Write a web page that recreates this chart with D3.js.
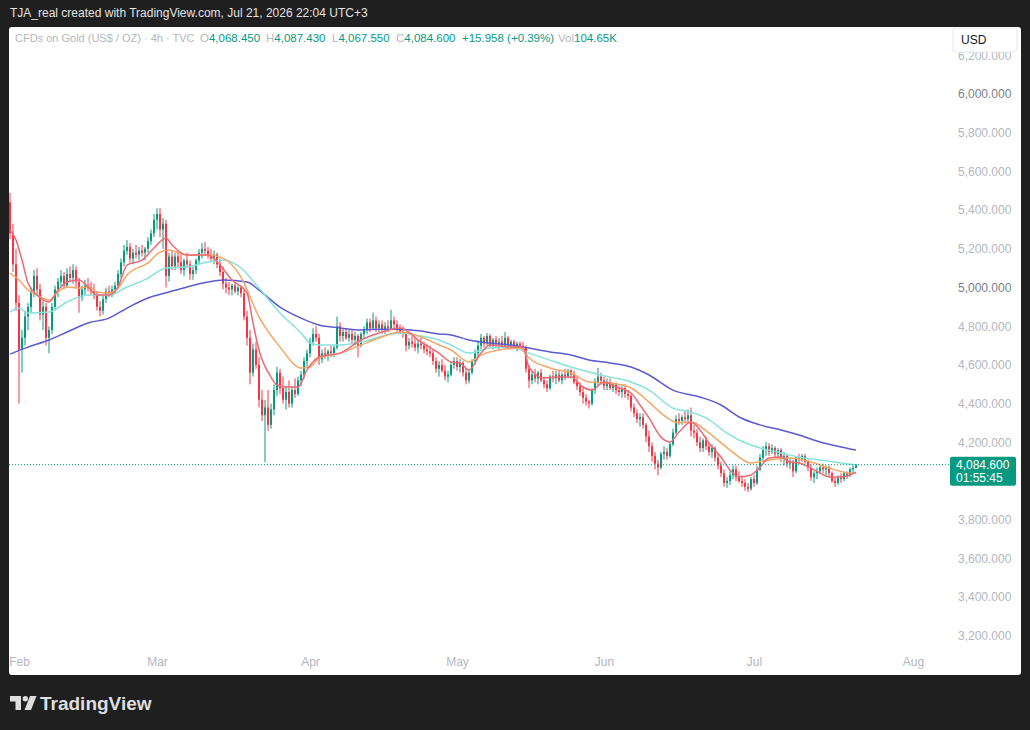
<!DOCTYPE html>
<html>
<head>
<meta charset="utf-8">
<script src="https://cdn.jsdelivr.net/npm/d3@7"></script>
<style>
  html, body { margin: 0; padding: 0; background: #1f1f1f; }
  svg { display: block; font-family: "Liberation Sans", Arial, sans-serif; }
</style>
</head>
<body>
<svg id="chart" width="1030" height="730"></svg>
<script>
// 4h-ish candles, [open, high, low, close], grouped per month
var barsFeb = [
  [5440,5490,5250,5280],[5280,5330,5080,5120],[5120,5200,4880,4920],[4920,4960,4400,4680],
  [4680,4780,4560,4740],[4740,4880,4700,4850],[4850,4920,4780,4900],[4900,5000,4870,4980],
  [4980,5090,4950,5060],[5060,5100,4960,4990],[4990,5020,4830,4860],[4860,4930,4780,4900],
  [4900,4920,4700,4740],[4740,4800,4660,4780],[4780,4920,4760,4900],[4900,5010,4880,4990],
  [4990,5050,4950,5030],[5030,5090,5000,5060],[5060,5080,4990,5010],[5010,5100,5000,5070],
  [5070,5110,5030,5050],[5050,5120,5020,5090],[5090,5110,5000,5030],[5030,5050,4870,4950],
  [4950,5010,4930,4990],[4990,5040,4960,5010],[5010,5050,4980,5000],[5000,5030,4960,4980],
  [4980,5020,4940,4960],[4960,4980,4880,4900],[4900,4930,4850,4880],[4880,4960,4860,4940],
  [4940,5000,4920,4980],[4980,5010,4950,4970],[4970,5010,4950,4990],[4990,5030,4970,5010],
  [5010,5090,5000,5070],[5070,5150,5050,5130],[5130,5220,5110,5190],[5190,5245,5170,5210],
  [5210,5230,5130,5150],[5150,5200,5120,5180],[5180,5220,5150,5170],[5170,5210,5140,5190],
  [5190,5220,5160,5180],[5180,5210,5140,5200],[5200,5260,5180,5240],[5240,5300,5220,5280],
  [5280,5380,5260,5350]
];
var barsMar = [
  [5350,5410,5300,5380],[5380,5410,5260,5300],[5300,5360,5200,5330],[5330,5350,5000,5060],
  [5060,5180,5030,5160],[5160,5190,5090,5110],[5110,5180,5090,5160],[5160,5190,5100,5130],
  [5130,5170,5070,5090],[5090,5150,5060,5140],[5140,5180,5100,5120],[5120,5140,5040,5070],
  [5070,5110,5040,5090],[5090,5150,5070,5140],[5140,5200,5120,5180],[5180,5230,5150,5200],
  [5200,5235,5170,5190],[5190,5210,5150,5170],[5170,5200,5130,5150],[5150,5190,5120,5170],
  [5170,5180,5100,5120],[5120,5150,5060,5080],[5080,5110,4990,5020],[5020,5050,4970,5000],
  [5000,5030,4960,4990],[4990,5020,4960,5010],[5010,5030,4970,4980],[4980,5010,4960,5000],
  [5000,5010,4950,4970],[4970,4990,4830,4850],[4850,4880,4700,4740],[4740,4780,4500,4560],
  [4560,4710,4540,4680],[4680,4720,4580,4600],[4600,4640,4380,4420],[4420,4470,4310,4340],
  [4340,4420,4098,4380],[4380,4470,4260,4290],[4290,4400,4270,4370],[4370,4500,4340,4470],
  [4470,4590,4440,4560],[4560,4580,4450,4480],[4480,4540,4400,4420],[4420,4490,4370,4460],
  [4460,4520,4380,4400],[4400,4490,4380,4470],[4470,4530,4430,4450],[4450,4540,4440,4520],
  [4520,4570,4490,4550],[4550,4640,4530,4620],[4620,4680,4590,4660]
];
var barsApr = [
  [4660,4740,4640,4720],[4720,4790,4700,4760],[4760,4800,4720,4740],[4740,4760,4600,4630],
  [4630,4680,4610,4660],[4660,4690,4630,4650],[4650,4680,4620,4670],[4670,4700,4640,4660],
  [4660,4700,4640,4690],[4690,4850,4680,4800],[4800,4820,4720,4750],[4750,4790,4720,4770],
  [4770,4790,4730,4740],[4740,4780,4720,4760],[4760,4780,4710,4730],[4730,4770,4700,4750],
  [4750,4760,4640,4700],[4700,4770,4690,4760],[4760,4800,4740,4780],[4780,4840,4760,4820],
  [4820,4840,4770,4790],[4790,4870,4780,4830],[4830,4850,4770,4790],[4790,4830,4770,4810],
  [4810,4830,4760,4780],[4780,4820,4760,4800],[4800,4830,4770,4790],[4790,4885,4780,4830],
  [4830,4850,4790,4810],[4810,4830,4770,4790],[4790,4810,4760,4770],[4770,4800,4740,4760],
  [4760,4770,4670,4700],[4700,4740,4680,4720],[4720,4750,4690,4710],[4710,4740,4670,4690],
  [4690,4730,4660,4710],[4710,4740,4680,4700],[4700,4720,4660,4680],[4680,4710,4650,4670],
  [4670,4700,4640,4660],[4660,4680,4600,4620],[4620,4640,4560,4580],[4580,4620,4540,4600],
  [4600,4630,4560,4570],[4570,4600,4520,4540],[4540,4570,4510,4550],[4550,4620,4540,4600],
  [4600,4640,4580,4620]
];
var barsMay = [
  [4620,4640,4570,4590],[4590,4630,4560,4610],[4610,4620,4540,4560],[4560,4580,4500,4520],
  [4520,4570,4505,4560],[4560,4630,4550,4620],[4620,4680,4600,4660],[4660,4720,4640,4700],
  [4700,4760,4680,4740],[4740,4750,4690,4710],[4710,4765,4700,4750],[4750,4760,4690,4700],
  [4700,4740,4680,4730],[4730,4750,4690,4710],[4710,4740,4680,4720],[4720,4750,4690,4700],
  [4700,4770,4690,4740],[4740,4750,4680,4700],[4700,4730,4680,4720],[4720,4730,4680,4690],
  [4690,4720,4670,4710],[4710,4720,4680,4700],[4700,4720,4670,4690],[4690,4700,4560,4580],
  [4580,4600,4480,4520],[4520,4570,4500,4550],[4550,4580,4510,4530],[4530,4570,4500,4560],
  [4560,4580,4510,4520],[4520,4540,4480,4500],[4500,4520,4460,4480],[4480,4550,4470,4540],
  [4540,4570,4510,4530],[4530,4570,4500,4550],[4550,4570,4510,4520],[4520,4560,4500,4550],
  [4550,4580,4520,4540],[4540,4580,4530,4570],[4570,4580,4530,4550],[4550,4570,4500,4510],
  [4510,4540,4470,4490],[4490,4510,4440,4460],[4460,4490,4400,4430],[4430,4450,4390,4410],
  [4410,4420,4375,4400],[4400,4480,4390,4470],[4470,4530,4450,4510],[4510,4585,4490,4540],
  [4540,4560,4500,4520]
];
var barsJun = [
  [4520,4540,4470,4490],[4490,4530,4470,4510],[4510,4530,4470,4480],[4480,4510,4460,4500],
  [4500,4510,4450,4470],[4470,4490,4440,4460],[4460,4490,4430,4480],[4480,4500,4430,4450],
  [4450,4470,4420,4440],[4440,4450,4360,4380],[4380,4400,4330,4350],[4350,4370,4300,4320],
  [4320,4350,4280,4330],[4330,4350,4270,4290],[4290,4300,4200,4230],[4230,4260,4150,4180],
  [4180,4200,4100,4130],[4130,4150,4060,4090],[4090,4110,4030,4070],[4070,4150,4060,4140],
  [4140,4180,4110,4150],[4150,4170,4110,4130],[4130,4200,4120,4190],[4190,4270,4180,4250],
  [4250,4340,4240,4320],[4320,4350,4290,4310],[4310,4340,4290,4330],[4330,4360,4300,4320],
  [4320,4370,4300,4340],[4340,4380,4230,4260],[4260,4290,4220,4250],[4250,4270,4180,4200],
  [4200,4230,4150,4170],[4170,4220,4150,4210],[4210,4230,4160,4180],[4180,4200,4130,4150],
  [4150,4190,4120,4170],[4170,4180,4100,4120],[4120,4140,4060,4080],[4080,4100,4020,4040],
  [4040,4060,3970,3990],[3990,4020,3965,4000],[4000,4050,3980,4030],[4030,4080,4010,4060],
  [4060,4080,4000,4020],[4020,4050,3990,4000],[4000,4030,3970,3990],[3990,4010,3950,3970],
  [3970,3990,3943,3960],[3960,4020,3950,4010]
];
var barsJul = [
  [4010,4030,3970,3990],[3990,4080,3980,4060],[4060,4140,4050,4120],[4120,4180,4100,4160],
  [4160,4200,4130,4180],[4180,4195,4130,4150],[4150,4190,4140,4170],[4170,4180,4120,4140],
  [4140,4170,4120,4160],[4160,4170,4100,4120],[4120,4150,4080,4130],[4130,4140,4070,4090],
  [4090,4120,4060,4100],[4100,4110,4020,4050],[4050,4130,4040,4120],[4120,4140,4090,4110],
  [4110,4140,4100,4130],[4130,4140,4090,4100],[4100,4110,4050,4070],[4070,4090,4000,4020],
  [4020,4050,3990,4040],[4040,4070,4010,4050],[4050,4080,4040,4070],[4070,4090,4040,4060],
  [4060,4080,4030,4070],[4070,4080,4020,4040],[4040,4050,3990,4000],[4000,4020,3970,3990],
  [3990,4030,3980,4020],[4020,4040,3990,4010],[4010,4050,4000,4040],[4040,4050,4010,4030],
  [4030,4070,4020,4060],[4060,4080,4040,4068.45],[4068.45,4087.43,4067.55,4084.6]
];

// moving averages, [bar index, price]
var maFast = [[0,5297],[2,5245],[4,5142],[6,5023],[9,4961],[13,4925],[16,4987],[19,5028],[23,5039],[26,5003],[29,4961],[33,4961],[36,5003],[39,5116],[44,5142],[48,5204],[52,5256],[54,5220],[59,5168],[66,5168],[70,5116],[74,5039],[79,4972],[81,4817],[83,4677],[87,4537],[89,4496],[92,4486],[96,4486],[99,4574],[103,4641],[110,4661],[117,4729],[123,4765],[130,4791],[137,4718],[143,4661],[147,4615],[150,4610],[153,4574],[157,4661],[160,4703],[167,4692],[171,4692],[173,4589],[178,4532],[182,4537],[187,4537],[191,4486],[194,4470],[198,4512],[202,4486],[207,4455],[210,4393],[213,4326],[217,4227],[220,4202],[223,4253],[227,4305],[230,4264],[233,4196],[237,4124],[240,4057],[243,4021],[247,4031],[250,4072],[253,4119],[257,4124],[260,4098],[263,4093],[267,4067],[270,4041],[273,4021],[277,4021],[280,4031],[282,4046]];
var maMid = [[0,5075],[3,5039],[6,4987],[9,4961],[13,4935],[16,4977],[19,5003],[23,4997],[26,5003],[29,4977],[33,4972],[36,4997],[39,5065],[46,5127],[50,5183],[53,5194],[59,5168],[66,5168],[71,5152],[77,5054],[83,4848],[90,4692],[97,4584],[100,4589],[103,4636],[110,4661],[117,4703],[123,4739],[130,4770],[137,4744],[143,4703],[147,4677],[153,4615],[157,4651],[163,4677],[170,4687],[173,4636],[180,4584],[187,4558],[193,4512],[200,4506],[207,4481],[213,4408],[217,4351],[223,4300],[227,4305],[233,4248],[240,4160],[247,4093],[253,4109],[260,4119],[267,4098],[273,4067],[280,4041],[282,4041]];
var maSlow = [[0,4873],[3,4894],[6,4868],[13,4873],[19,4925],[26,4961],[33,4961],[39,5003],[46,5049],[52,5101],[59,5106],[66,5132],[71,5142],[77,5101],[83,4997],[90,4868],[97,4765],[100,4713],[103,4703],[110,4703],[117,4718],[123,4744],[130,4765],[137,4749],[143,4729],[147,4703],[153,4661],[160,4687],[167,4692],[173,4661],[180,4625],[187,4589],[193,4563],[200,4537],[207,4512],[213,4470],[221,4377],[227,4357],[232,4326],[239,4248],[243,4212],[250,4171],[257,4145],[263,4124],[270,4109],[277,4093],[282,4083]];
var maLong = [[0,4656],[6,4692],[13,4729],[19,4770],[26,4817],[33,4842],[39,4894],[46,4946],[53,4977],[59,5003],[66,5028],[71,5039],[79,5028],[83,4987],[90,4899],[97,4842],[103,4806],[110,4791],[117,4780],[123,4785],[130,4785],[137,4775],[143,4760],[147,4755],[153,4729],[160,4713],[167,4703],[173,4687],[180,4667],[187,4651],[193,4625],[200,4610],[207,4589],[213,4548],[221,4470],[230,4434],[237,4393],[243,4331],[250,4290],[257,4264],[263,4238],[270,4202],[277,4176],[282,4160]];

var monthLabels = ['Feb','Mar','Apr','May','Jun','Jul','Aug'];
var monthBarIdx = [3,49,100,149,198,248,301];
var priceTicks = [3200,3400,3600,3800,4000,4200,4400,4600,4800,5000,5200,5400,5600,5800,6000,6200];
var lastPrice = 4084.6;
var countdown = '01:55:45';
var legendKeys = ['O','H','L','C'];
var legendNums = ['4,068.450','4,087.430','4,067.550','4,084.600'];
var legendChange = '+15.958 (+0.39%)';
var legendVol = '104.65K';

var bars = [].concat(barsFeb, barsMar, barsApr, barsMay, barsJun, barsJul);

var svg = d3.select('#chart');
var upCol = '#089981', downCol = '#f23645';

svg.append('rect').attr('width', 1030).attr('height', 730).attr('fill', '#1f1f1f');
svg.append('text').attr('x', 10).attr('y', 17).attr('fill', '#e3e3e3')
  .style('font-size', '12px')
  .text('TJA_real created with TradingView.com, Jul 21, 2026 22:04 UTC+3');

// white chart panel
svg.append('rect').attr('x', 9).attr('y', 27).attr('width', 1012).attr('height', 648)
  .attr('rx', 3).attr('fill', '#ffffff');

var x = d3.scaleLinear().domain([0, 312]).range([10, 946]);
var y = d3.scaleLinear().domain([3000, 6300]).range([674.5, 36]);

svg.append('clipPath').attr('id', 'plot').append('rect')
  .attr('x', 9).attr('y', 27).attr('width', 938).attr('height', 625);

var plot = svg.append('g').attr('clip-path', 'url(#plot)');

// candles
var candle = plot.selectAll('g.candle').data(bars).join('g').attr('class', 'candle');
candle.append('line')
  .attr('x1', function(d, i) { return x(i); })
  .attr('x2', function(d, i) { return x(i); })
  .attr('y1', function(d) { return y(d[1]); })
  .attr('y2', function(d) { return y(d[2]); })
  .attr('stroke', function(d) { return d[3] >= d[0] ? upCol : downCol; })
  .attr('stroke-width', 1);
candle.append('rect')
  .attr('x', function(d, i) { return x(i) - 1; })
  .attr('width', 2)
  .attr('y', function(d) { return y(Math.max(d[0], d[3])); })
  .attr('height', function(d) { return Math.max(1, Math.abs(y(d[0]) - y(d[3]))); })
  .attr('fill', function(d) { return d[3] >= d[0] ? upCol : downCol; });

// moving averages
var maLine = d3.line()
  .x(function(d) { return x(d[0]); })
  .y(function(d) { return y(d[1]); })
  .curve(d3.curveMonotoneX);

[[maLong, '#5b5bd2'], [maSlow, '#86e3dc'], [maMid, '#f5a667'], [maFast, '#ec6b74']].forEach(function(m) {
  plot.append('path').datum(m[0]).attr('d', maLine)
    .attr('fill', 'none').attr('stroke', m[1]).attr('stroke-width', 1.5);
});

// last price dotted line
svg.append('line').attr('x1', 9).attr('x2', 950)
  .attr('y1', y(lastPrice)).attr('y2', y(lastPrice))
  .attr('stroke', upCol).attr('stroke-width', 1).attr('stroke-dasharray', '1,2');

// price axis
var yAxis = d3.axisRight(y)
  .tickValues(priceTicks.filter(function(p) { return Math.abs(y(p) - y(lastPrice)) > 18; }))
  .tickFormat(d3.format(',.3f'))
  .tickSize(0).tickPadding(0);
var ya = svg.append('g').attr('transform', 'translate(958,0)').call(yAxis)
  .attr('font-size', null).attr('font-family', null);
ya.select('.domain').remove();
ya.selectAll('text').style('font-size', '12px')
  .attr('fill', function(d) { return d % 1000 === 0 ? '#7d808a' : '#b4b7bf'; });

// time axis
var xAxis = d3.axisBottom(x)
  .tickValues(monthBarIdx)
  .tickFormat(function(d, i) { return monthLabels[i]; })
  .tickSize(0).tickPadding(0);
var xa = svg.append('g').attr('transform', 'translate(0,657)').call(xAxis)
  .attr('font-size', null).attr('font-family', null);
xa.select('.domain').remove();
xa.selectAll('text').style('font-size', '12px').attr('fill', '#b4b7bf');

// currency box
svg.append('rect').attr('x', 953).attr('y', 28).attr('width', 64).attr('height', 24)
  .attr('rx', 3).attr('fill', '#ffffff').attr('stroke', '#e6e8ee');
svg.append('text').attr('x', 961).attr('y', 44).attr('fill', '#131722')
  .style('font-size', '12px').text('USD');

// last price label
var py = y(lastPrice);
svg.append('rect').attr('x', 950).attr('y', py - 8).attr('width', 66).attr('height', 29)
  .attr('rx', 2).attr('fill', upCol);
svg.append('text').attr('x', 956).attr('y', py + 4).attr('fill', '#fff')
  .style('font-size', '12px').text(d3.format(',.3f')(lastPrice));
svg.append('text').attr('x', 956).attr('y', py + 17).attr('fill', '#fff')
  .style('font-size', '12px').text(countdown);

// legend
var legend = svg.append('g').style('font-size', '11.5px');
legend.append('text').attr('x', 15).attr('y', 42).attr('fill', '#b4b7bf')
  .style('font-size', '11px')
  .text('CFDs on Gold (US$ / OZ) \u00b7 4h \u00b7 TVC');
var keyX = [200, 266, 332, 396];
legendKeys.forEach(function(k, i) {
  var t = legend.append('text').attr('x', keyX[i]).attr('y', 42);
  t.append('tspan').attr('fill', '#b4b7bf').text(k);
  t.append('tspan').attr('fill', upCol).text(legendNums[i]);
});
legend.append('text').attr('x', 462).attr('y', 42).attr('fill', upCol).text(legendChange);
var vol = legend.append('text').attr('x', 558).attr('y', 42);
vol.append('tspan').attr('fill', '#b4b7bf').text('Vol');
vol.append('tspan').attr('fill', upCol).text(legendVol);

// TradingView logo
var logo = svg.append('g').attr('fill', '#dedede');
logo.append('path').attr('d', 'M10 696H21V710H15.5V701.5H10Z');
logo.append('circle').attr('cx', 25.3).attr('cy', 698.8).attr('r', 2.7);
logo.append('path').attr('d', 'M30 696H36.5L31 710H24.5Z');
svg.append('text').attr('x', 40).attr('y', 710).attr('fill', '#dedede')
  .style('font-size', '19px').style('font-weight', '700').text('TradingView');
</script>
</body>
</html>
